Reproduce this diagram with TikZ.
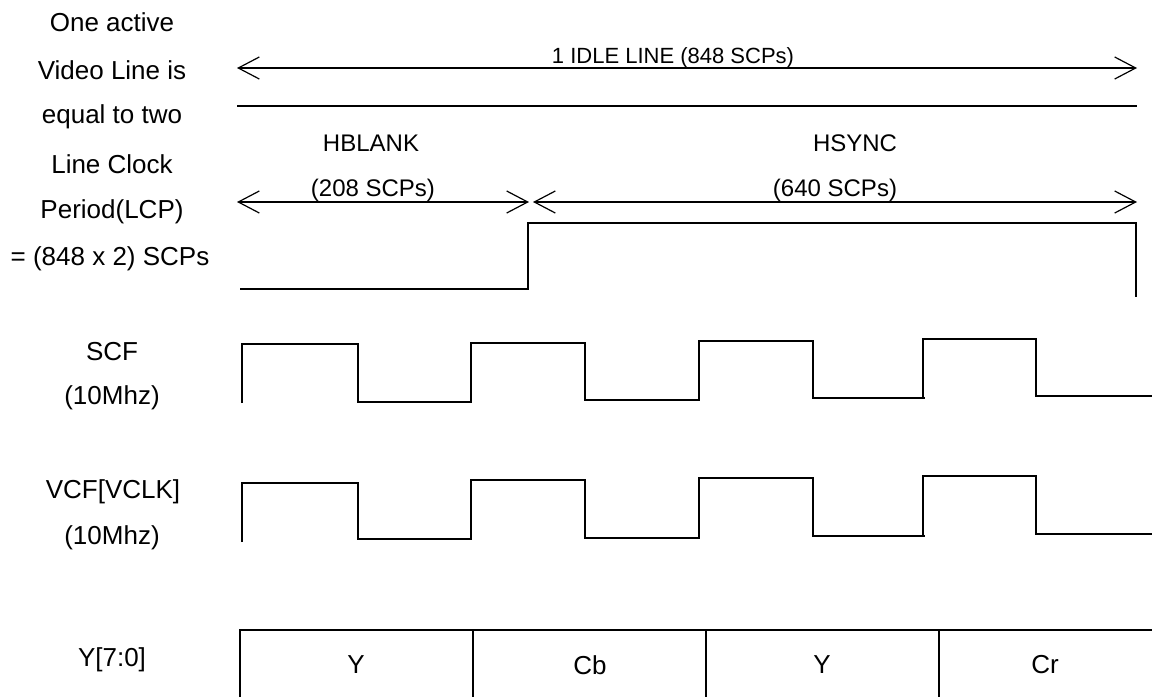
\documentclass[tikz,border=0pt]{standalone}
\usepackage{fontspec}
\setmainfont{Liberation Sans}
\usetikzlibrary{arrows.meta}
\begin{document}
\begin{tikzpicture}[x=1pt,y=-1pt,
  lbl/.style={font=\fontsize{26}{30}\selectfont, inner sep=0pt, anchor=center},
  toplbl/.style={font=\fontsize{22}{26}\selectfont, inner sep=0pt, anchor=center},
  midlbl/.style={font=\fontsize{24}{28}\selectfont, inner sep=0pt, anchor=center},
  dim/.style={line width=1.2pt, {Straight Barb[length=21pt,width=22pt]}-{Straight Barb[length=21pt,width=22pt]}},
  wave/.style={line width=2pt, line join=miter},
  cell/.style={line width=2.2pt}]
\useasboundingbox (0,0) rectangle (1152,697);

% left labels
\node[lbl] (t1) at (112,22) {One active};
\node[lbl] (t2) at (112,70) {Video Line is};
\node[lbl] (t3) at (112,117) {equal to two};
\node[lbl] (t4) at (112,164) {Line Clock};
\node[lbl] (t5) at (112,212) {Period(LCP)};
\node[lbl] (t6) at (110,259) {= (848 x 2) SCPs};
\node[lbl] (scf) at (112,352) {SCF};
\node[lbl] (scff) at (112,398) {(10Mhz)};
\node[lbl] (vcf) at (113,492) {VCF[VCLK]};
\node[lbl] (vcff) at (112,538) {(10Mhz)};
\node[lbl] (ybus) at (112,660) {Y[7:0]};

% top dimensions
\coordinate (L0) at (237,68);
\coordinate (R0) at (1137,68);
\draw[dim] (L0) -- (R0);
\node[toplbl] (idle) at (673,58) {1 IDLE LINE (848 SCPs)};
\coordinate (ln1) at (237,106);
\coordinate (ln2) at (1137,106);
\draw[line width=1.2pt] (ln1) -- (ln2);

\node[midlbl] (hb) at (371,143) {HBLANK};
\node[midlbl] (hs) at (855,143) {HSYNC};
\node[midlbl] (hbn) at (373,190) {(208 SCPs)};
\node[midlbl] (hsn) at (835,190) {(640 SCPs)};
\coordinate (L1) at (237,202);
\coordinate (M1) at (529,202);
\coordinate (M2) at (533,202);
\coordinate (R1) at (1137,202);
\draw[dim] (L1) -- (M1);
\draw[dim] (M2) -- (R1);

% HSYNC waveform
\draw[wave] (240,289) -- (528,289) -- (528,223) -- (1136,223) -- (1136,297);

% SCF
\draw[wave] (242,403) -- (242,344) -- (358,344) -- (358,402) -- (472,402)
  (471,402) -- (471,343) -- (585,343) -- (585,400) -- (699,400) -- (699,341)
  -- (813,341) -- (813,398) -- (925,398) (923,398) -- (923,339) -- (1036,339)
  -- (1036,396) -- (1152,396);

% VCF
\draw[wave] (242,542) -- (242,483) -- (358,483) -- (358,539) -- (472,539)
  (471,539) -- (471,480) -- (585,480) -- (585,538) -- (699,538) -- (699,478)
  -- (813,478) -- (813,536) -- (925,536) (923,536) -- (923,476) -- (1036,476)
  -- (1036,534) -- (1152,534);

% data bus
\draw[cell] (240,697) -- (240,630) -- (1152,630);
\draw[cell] (473,630) -- (473,697);
\draw[cell] (706,630) -- (706,697);
\draw[cell] (939,630) -- (939,697);
\node[lbl] (d1) at (356,665) {Y};
\node[lbl] (d2) at (590,665) {Cb};
\node[lbl] (d3) at (822,665) {Y};
\node[lbl] (d4) at (1045,665) {Cr};
\end{tikzpicture}
\end{document}
